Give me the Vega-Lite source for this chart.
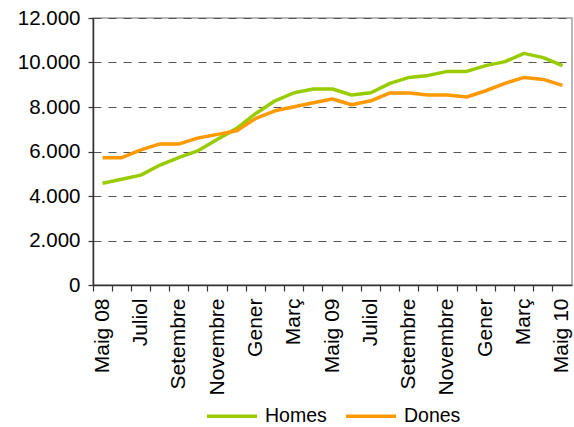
{
  "$schema": "https://vega.github.io/schema/vega-lite/v6.json",
  "autosize": "none",
  "width": 479,
  "height": 267,
  "padding": {"left": 93, "top": 18, "right": 2, "bottom": 142},
  "background": "white",
  "config": {
    "font": "Liberation Sans",
    "view": {"stroke": "#a0a0a0", "strokeWidth": 1.5},
    "axis": {"labelFont": "Liberation Sans", "labelColor": "black", "domainColor": "#333", "tickColor": "#333", "domainWidth": 1.5, "tickWidth": 1.2},
    "legend": {"layout": {"bottom": {"anchor": "middle"}}}
  },
  "data": {
    "values": [
      {"i": 0, "serie": "Homes", "v": 4570}, {"i": 1, "serie": "Homes", "v": 4750}, {"i": 2, "serie": "Homes", "v": 4940},
      {"i": 3, "serie": "Homes", "v": 5390}, {"i": 4, "serie": "Homes", "v": 5740}, {"i": 5, "serie": "Homes", "v": 6040},
      {"i": 6, "serie": "Homes", "v": 6550}, {"i": 7, "serie": "Homes", "v": 7040}, {"i": 8, "serie": "Homes", "v": 7710},
      {"i": 9, "serie": "Homes", "v": 8280}, {"i": 10, "serie": "Homes", "v": 8640}, {"i": 11, "serie": "Homes", "v": 8810},
      {"i": 12, "serie": "Homes", "v": 8810}, {"i": 13, "serie": "Homes", "v": 8540}, {"i": 14, "serie": "Homes", "v": 8640},
      {"i": 15, "serie": "Homes", "v": 9060}, {"i": 16, "serie": "Homes", "v": 9330}, {"i": 17, "serie": "Homes", "v": 9420},
      {"i": 18, "serie": "Homes", "v": 9600}, {"i": 19, "serie": "Homes", "v": 9600}, {"i": 20, "serie": "Homes", "v": 9860},
      {"i": 21, "serie": "Homes", "v": 10040}, {"i": 22, "serie": "Homes", "v": 10410}, {"i": 23, "serie": "Homes", "v": 10220},
      {"i": 24, "serie": "Homes", "v": 9860},
      {"i": 0, "serie": "Dones", "v": 5720}, {"i": 1, "serie": "Dones", "v": 5720}, {"i": 2, "serie": "Dones", "v": 6070},
      {"i": 3, "serie": "Dones", "v": 6340}, {"i": 4, "serie": "Dones", "v": 6340}, {"i": 5, "serie": "Dones", "v": 6610},
      {"i": 6, "serie": "Dones", "v": 6770}, {"i": 7, "serie": "Dones", "v": 6930}, {"i": 8, "serie": "Dones", "v": 7490},
      {"i": 9, "serie": "Dones", "v": 7830}, {"i": 10, "serie": "Dones", "v": 8010}, {"i": 11, "serie": "Dones", "v": 8190},
      {"i": 12, "serie": "Dones", "v": 8360}, {"i": 13, "serie": "Dones", "v": 8100}, {"i": 14, "serie": "Dones", "v": 8280},
      {"i": 15, "serie": "Dones", "v": 8630}, {"i": 16, "serie": "Dones", "v": 8630}, {"i": 17, "serie": "Dones", "v": 8540},
      {"i": 18, "serie": "Dones", "v": 8540}, {"i": 19, "serie": "Dones", "v": 8450}, {"i": 20, "serie": "Dones", "v": 8730},
      {"i": 21, "serie": "Dones", "v": 9060}, {"i": 22, "serie": "Dones", "v": 9330}, {"i": 23, "serie": "Dones", "v": 9240},
      {"i": 24, "serie": "Dones", "v": 8970}
    ]
  },
  "mark": {"type": "line", "strokeWidth": 3.5, "strokeJoin": "round"},
  "encoding": {
    "x": {
      "field": "i", "type": "ordinal", "bandPosition": 0.5,
      "scale": {"type": "band", "paddingInner": 0, "paddingOuter": 0},
      "axis": {
        "title": null, "labelAngle": -90, "labelFontSize": 21, "labelPadding": 7, "tickSize": 6,
        "bandPosition": 0, "grid": false, "labelBound": false, "labelOverlap": false,
        "labelExpr": "datum.value % 2 == 0 ? ['Maig 08','Juliol','Setembre','Novembre','Gener','Març','Maig 09','Juliol','Setembre','Novembre','Gener','Març','Maig 10'][datum.value / 2] : ''",
        "labelBaseline": "middle", "labelAlign": "right"
      }
    },
    "y": {
      "field": "v", "type": "quantitative",
      "scale": {"domain": [0, 12000], "nice": false},
      "axis": {
        "title": null, "values": [0, 2000, 4000, 6000, 8000, 10000, 12000], "labelFontSize": 20.5, "labelPadding": 8, "tickSize": 5,
        "format": ",d", "labelExpr": "replace(datum.label, ',', '.')",
        "grid": true, "gridColor": "#555", "gridDash": [8, 7], "gridWidth": 1.2
      }
    },
    "color": {
      "field": "serie", "type": "nominal",
      "scale": {"domain": ["Homes", "Dones"], "range": ["#99CC00", "#FF9900"]},
      "legend": {
        "title": null, "orient": "bottom", "direction": "horizontal", "offset": -6,
        "symbolType": "stroke", "symbolSize": 2500, "symbolStrokeWidth": 3.5,
        "labelFontSize": 19.5, "labelColor": "black", "labelOffset": 6, "columnPadding": 12
      }
    }
  }
}
